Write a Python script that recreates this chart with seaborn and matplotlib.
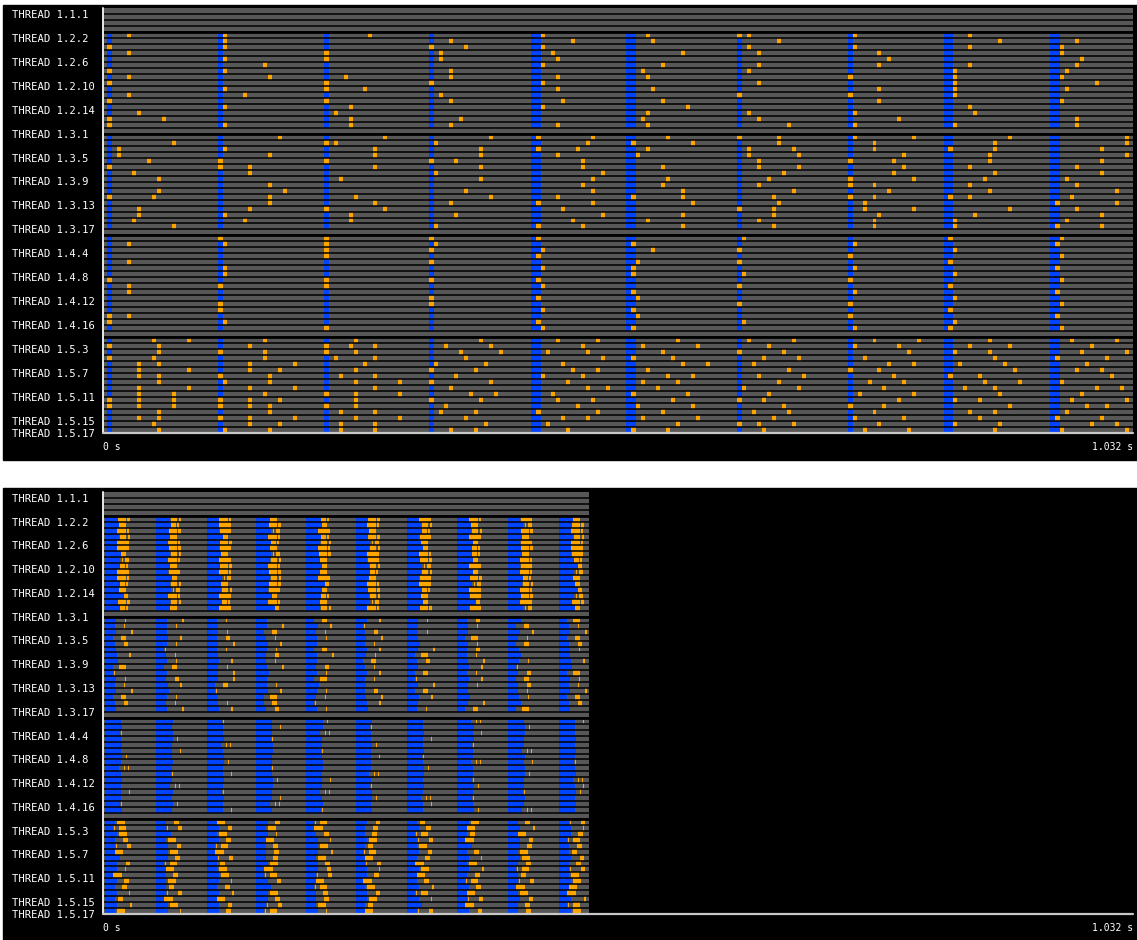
import matplotlib

matplotlib.use("Agg", force=True)
import matplotlib.pyplot as plt
import matplotlib.transforms as mtransforms
import numpy as np
import seaborn as sns
from matplotlib.colors import ListedColormap
from matplotlib.patches import Rectangle

# ---- threads -------------------------------------------------------------
PROCESSES = ["1.1", "1.2", "1.3", "1.4", "1.5"]
THREADS_PER_PROCESS = [3, 17, 17, 17, 17]
LABELED_THREADS = [
    "1.1.1", "1.2.2", "1.2.6", "1.2.10", "1.2.14", "1.3.1", "1.3.5", "1.3.9",
    "1.3.13", "1.3.17", "1.4.4", "1.4.8", "1.4.12", "1.4.16", "1.5.3", "1.5.7",
    "1.5.11", "1.5.15", "1.5.17",
]
TIME_LABELS = ["0 s", "1.032 s"]
TRACE_MS = 1032

STATE_COLORS = ["#575757", "#0044ff", "#ffa500"]  # idle, compute, event

# ---- top trace: 10 iterations, orange events as 5 ms slots after the blue burst
TOP_BLUE_START = [4, 115, 221, 327, 429, 524, 635, 746, 843, 949]
TOP_BLUE_END = [9, 120, 226, 332, 439, 534, 640, 751, 852, 959]

TOP_DOTS_P2 = [
    "4 1 9 . 1 3 0,2 1 4 .",
    ". 1 . 4 7 4 8 . 10 4",
    "0 1 . 0,7 1 . 2 1 4 1",
    "4 . 0 2 3 10 4 6 . 1",
    ". 1 0 2 4 . . 8 . 5",
    ". 9 . . 1 6 4 6 4 4",
    "0 1 . 4 . 2 2 . 1 2",
    "4 10 4 4 4 3 . 0 1 1",
    "0 . 0 0 1 . 4 . 1 8",
    ". 1 0,8 . 4 4 . 6 1 2",
    "4 5 . 2 . . 0 0 1 .",
    "0 . 0 4 5 6 . 6 . 1",
    ". 1 5 . 1 11 . . 4 .",
    "6 . 2 . . 3 2 1 5 .",
    "0,11 . 5 6 . 2 4 10 . 4",
    "0 1 5 4 4 3 10 1 1 4",
]
TOP_DOTS_P3 = [
    ". 12 12 12 0,11 7 0,8 1,13 12 14",
    "13 . 0,2 1 10 0,12 8 5 9 14",
    "2 1 10 10 0,8 3 2,11 5 0,9 9",
    "2 10 10 10 4 1 2,12 11 8 14",
    "8 0 0 0,5 9 . 4 0,9 8 9",
    "0 0,6 10 10 9 6 4,12 11 4 4",
    "5 6 . 1 13 . 9 9 9 9",
    "10 . 3 10 11 7 6 0,13 7 2",
    ". 10 . . 9 6 4 0,5 4 4",
    "10 13 . 7 11 10 11 8 8 12",
    "0,9 10 6 12 4 0,10 7 0,5 0,4 3",
    ". 10 10 4 0,11 12 8 3 . 0,12",
    "6 6 0,12 . 5 . 0,7 3,13 12 4",
    "6 1 5 5 13 10 7 6 5 9",
    "5 5 5 . 7 3 4 5 1 2",
    "13 . . 1 0,9 10 7 5 1 0,9",
]
TOP_DOTS_P4 = [
    ". 0 0 0 0 . 1 . 0 1",
    "4 1 0 1 . 0 . 1 . 0",
    ". . 0 0 1 4 0 . 1 .",
    ". . 0 . 0 . . 0 . 1",
    "4 . . 0 . 1 0 . 0 .",
    ". 1 . . 1 0 . 1 . 0",
    ". 1 . . . 0 1 . 1 .",
    "0 . 0 0 0 . . 0 . 1",
    "4 0 0 . 1 . 0 . 0 .",
    "4 . . . . 0 . 1 . 0",
    ". . . 0 0 1 . . 1 .",
    ". 0 . 0 . . 0 0 . 1",
    ". 0 . . 1 0 . . 0 .",
    "0,4 . . . . 1 . 0 . 0",
    "0 1 . . 0 . 1 . 1 .",
    ". . 0 . 1 0 . 1 0 1",
]
TOP_DOTS_P5 = [
    "9,16 9 6 10 4,12 9 2,11 5,14 8 3,12",
    "0,10 6 0,5,10 3,12 9 2,13 6 1,10 4,12 7",
    "10 0,9 0,6 6,14 2,10 6 0,9 12 1,8 5,14",
    "0,9 9 2,10 7 13 0,8 5,12 3 9 0,10",
    "6,10 6,15 8 1,11 5 10,15 3 8,13 2,11 6",
    "6,16 6,12 6 0,9 7,12 3 10 0,6 13 4,9",
    "6,10 0,10 3,10 5 1,9 7,12 4,13 9 0,6 11",
    "10 1,10 6,15 0,12 6 2,9 8 4,11 7,14 1",
    "6,16 6,15 10 4 10,14 5 1,12 7 3,9 8,13",
    "6,13 9 0,6,15 8,13 3 0,11 6 2,13 10 5",
    "0,6,13 0,6,12 6 0,10 4,11 8 0,5 10 1,6 3,14",
    "0,6,13 0,6,10 0,6 3 8 1,12 9 0,7 12 6,10",
    "10 10 3,10 2,9 0,12 6 3,10 5 4,9 2",
    "6,10 0,6,15 6,15 7 5,10 2,13 7 1,11 6 0,9",
    "9 6,12 3,10 11 2 9 0,4,11 6 1,10 7,12",
    "10 1,10 3,10 4,9 6 0,7 5 3,12 9 1,14",
]

# ---- bottom trace: 10 iterations, each cell is one burst shape --------------
BOTTOM_ITER_START = [2, 53, 104, 153, 203, 253, 305, 355, 406, 457]
BOTTOM_TRACE_END = 487

# shape: (blue ms, [(gap ms, orange ms), ...])
BOTTOM_SHAPES = {
    "a": (13, [(0, 8), (1, 3)]), "b": (14, [(0, 7)]), "c": (12, [(0, 9), (1, 2)]),
    "d": (14, [(1, 6), (2, 2)]), "e": (12, [(0, 12)]), "f": (16, [(0, 5)]),
    "g": (15, [(2, 1), (2, 4)]), "h": (15, [(0, 5), (1, 2)]), "i": (19, [(0, 4)]),
    "j": (12, [(1, 11)]),
    "k": (11, [(9, 1)]), "l": (10, [(9, 1)]), "m": (11, [(15, 2)]), "n": (8, [(8, 5)]),
    "o": (10, [(9, 4)]), "p": (11, []), "q": (12, [(12, 2)]), "r": (13, []),
    "s": (8, [(6, 7)]), "t": (8, [(1, 1)]),
    "u": (16, []), "v": (17, []), "w": (15, [(1, 1)]), "x": (17, [(4, 1)]),
    "y": (14, [(5, 1), (3, 1)]), "z": (16, [(8, 1)]),
    "A": (10, [(2, 8)]), "B": (8, [(1, 1), (4, 7)]), "C": (12, [(2, 8)]),
    "D": (10, [(8, 5)]), "E": (10, [(1, 1), (10, 4)]), "F": (10, [(0, 8)]),
    "G": (15, []), "H": (12, [(9, 4)]), "I": (12, [(8, 1)]), "J": (8, [(0, 9)]),
    "K": (12, [(7, 5)]), "L": (10, [(7, 5)]), "M": (12, [(12, 1)]),
    "N": (10, [(3, 5)]), "O": (12, [(13, 2)]),
}
BOTTOM_ROWS_P2 = [
    "adcbhaecjb", "bheafcdbga", "cajgebhdac", "dbfchajebd", "ecahdgbfjc",
    "eajbcdfhae", "fdbgaechbj", "gcedbjafch", "hbacfdgeji", "ejcabhdfcg",
    "cfgdebjahb", "hdbaicegdf", "bgdjfaheci", "icefhdbjag", "adhcbgfiea",
    "hbeidcajgf",
]
BOTTOM_ROWS_P3 = [
    "kmlpnqkors", "lkpmqtpknl", "mpknlokpqm", "nqolkmpsln", "okmqplrkno",
    "ptlknqmopk", "qlpomkslrp", "rkqlpnomkq", "snkmolpqtr", "tpmrkqnlos",
    "kompsltqnk", "lqnkrpmkol", "mrtqkonplm", "nkpslmqrkn", "olkntqpmro",
    "pmqokrlnsp",
]
BOTTOM_ROWS_P4 = [
    "uvwuxvuyuz", "vuuzvwuvxu", "wvuuyuvzvu", "uxvwuuzvuv", "vuyvuxuwuu",
    "uzuvwuvuyv", "xuvuuzwuvu", "uvxuvuuyzw", "yuuwvuxuvu", "uwzuuyvuxv",
    "vuvxzuuwuy", "uyuvuwvxuz", "zvwuyvuuwx", "uuvzuxywvu", "wxuyvuzuuv",
    "vuzuwvuxyu",
]
BOTTOM_ROWS_P5 = [
    "ADFKBHNCLE", "BEHAJDKFOM", "CGAIDLBNFK", "DAKFMCEJHB", "EHBLCNAGKD",
    "FCJDOBHLAN", "GKELAFDMCH", "HBNCKEJADL", "IFAJHMCOBE", "JLCBEKFDNA",
    "KAMHFJLBEC", "LNDGBAOKJF", "MEOCLHBFAJ", "NJFKDCMEHO", "OCHEANGJLB",
    "AMKBIFEHDC",
]


def thread_names() -> list[str]:
    names = []
    for proc, count in zip(PROCESSES, THREADS_PER_PROCESS):
        names += [f"{proc}.{t}" for t in range(1, count + 1)]
    return names


NAMES = thread_names()


def worker_rows(proc: str) -> list[int]:
    return [NAMES.index(f"{proc}.{t}") for t in range(2, 18)]


def build_top() -> np.ndarray:
    grid = np.zeros((len(NAMES), TRACE_MS))
    for proc, rows in zip(PROCESSES[1:], [TOP_DOTS_P2, TOP_DOTS_P3, TOP_DOTS_P4, TOP_DOTS_P5]):
        for r, spec in zip(worker_rows(proc), rows):
            for i, tok in enumerate(spec.split()):
                start, end = TOP_BLUE_START[i], TOP_BLUE_END[i]
                grid[r, start:end] = 1
                if tok == ".":
                    continue
                for k in map(int, tok.split(",")):
                    s, w = (end - 5, 5) if k == 0 else (end + 5 * (k - 1), 4)
                    grid[r, s:s + w] = 2
    return grid


def build_bottom() -> np.ndarray:
    grid = np.zeros((len(NAMES), TRACE_MS))
    grid[:, BOTTOM_TRACE_END:] = np.nan
    for proc, rows in zip(PROCESSES[1:], [BOTTOM_ROWS_P2, BOTTOM_ROWS_P3, BOTTOM_ROWS_P4, BOTTOM_ROWS_P5]):
        for r, spec in zip(worker_rows(proc), rows):
            for i, code in enumerate(spec):
                blue, segs = BOTTOM_SHAPES[code]
                pos = BOTTOM_ITER_START[i]
                grid[r, pos:pos + blue] = 1
                pos += blue
                for gap, width in segs:
                    pos += gap
                    grid[r, pos:pos + width] = 2
                    pos += width
    return grid


def draw_panel(fig, rect, grid) -> None:
    ax = fig.add_axes(rect)
    ax.set_facecolor("black")
    sns.heatmap(
        grid,
        ax=ax,
        cmap=ListedColormap(STATE_COLORS),
        vmin=-0.5,
        vmax=2.5,
        mask=np.isnan(grid),
        cbar=False,
        xticklabels=False,
        yticklabels=False,
        linewidths=0,
        rasterized=True,
    )
    n = len(NAMES)
    ax.hlines(np.arange(1, n), 0, TRACE_MS, colors="black", linewidth=1.1)
    starts = [NAMES.index(f"{p}.2") for p in PROCESSES[1:]]
    ax.hlines(starts, 0, TRACE_MS, colors="black", linewidth=2.0)
    ax.axvline(0, color="#e8e8e8", linewidth=1.4, clip_on=False)
    ax.axhline(n, color="#c8c8c8", linewidth=1.6, clip_on=False)

    trans = mtransforms.blended_transform_factory(fig.transFigure, ax.transData)
    for name in LABELED_THREADS:
        row = NAMES.index(name)
        ax.text(12 / 1137, row + 1.15, f"THREAD {name}", transform=trans, color="white",
                fontsize=7.6, ha="left", va="center", clip_on=False)
    ax.text(0, n + 2.3, TIME_LABELS[0], color="white", fontsize=7, ha="left", va="center", clip_on=False)
    ax.text(TRACE_MS, n + 2.3, TIME_LABELS[1], color="white", fontsize=7, ha="right", va="center",
            clip_on=False)


def main() -> None:
    sns.set_theme(style="white")
    plt.rcParams["font.family"] = ["DejaVu Sans Mono", "DejaVu Sans"]
    W, H = 1137, 940
    fig = plt.figure(figsize=(W / 100, H / 100), dpi=100, facecolor="white")
    for top, bottom in [(5, 460), (488, 940)]:
        fig.add_artist(Rectangle((3 / W, 1 - bottom / H), (W - 3) / W, (bottom - top) / H,
                                 transform=fig.transFigure, color="black", zorder=-5))
    draw_panel(fig, [103 / W, 1 - 433 / H, 1030 / W, 425 / H], build_top())
    draw_panel(fig, [103 / W, 1 - 914 / H, 1030 / W, 422 / H], build_bottom())
    fig.savefig("out.png", dpi=100, facecolor="white")


if __name__ == "__main__":
    main()
